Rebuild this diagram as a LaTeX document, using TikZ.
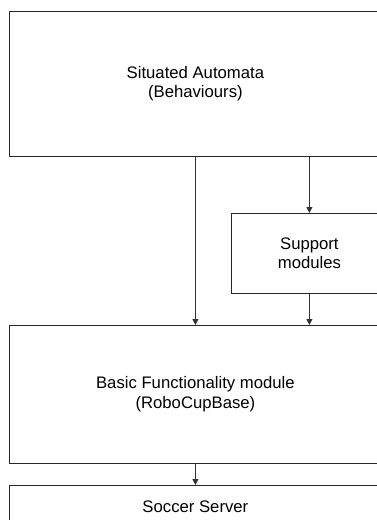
\documentclass[tikz,border=0pt]{standalone}
\usepackage{fontspec}
\setmainfont{Liberation Sans}
\usetikzlibrary{arrows.meta}
\begin{document}
\begin{tikzpicture}[x=1pt,y=-1pt,
  box/.style={draw=black!85, line width=0.8pt, inner sep=0pt, align=center, anchor=north west,
    font=\fontsize{16.7}{19.5}\selectfont},
  arr/.style={draw=black!80, line width=0.8pt, -{Triangle[length=6pt,width=6pt]}}]
\clip (0,0) rectangle (377,520);
\useasboundingbox (0,0) rectangle (377,520);
\fill[white] (0,0) rectangle (377,520);
\node[box, minimum width=372pt, minimum height=145pt] (sa) at (9,11) {Situated Automata\\(Behaviours)};
\node[box, minimum width=156pt, minimum height=80pt] (sm) at (231,213) {Support\\modules};
\node[box, minimum width=372pt, minimum height=138pt] (bf) at (9,325) {Basic Functionality module\\(RoboCupBase)};
\node[box, minimum width=372pt, minimum height=42pt] (ss) at (9,485) {Soccer Server};
\draw[arr] (sa.south) -- (bf.north);
\draw[arr] (sa.south -| sm.north) -- (sm.north);
\draw[arr] (sm.south) -- (sm.south |- bf.north);
\draw[arr] (bf.south) -- (ss.north);
\end{tikzpicture}
\end{document}
